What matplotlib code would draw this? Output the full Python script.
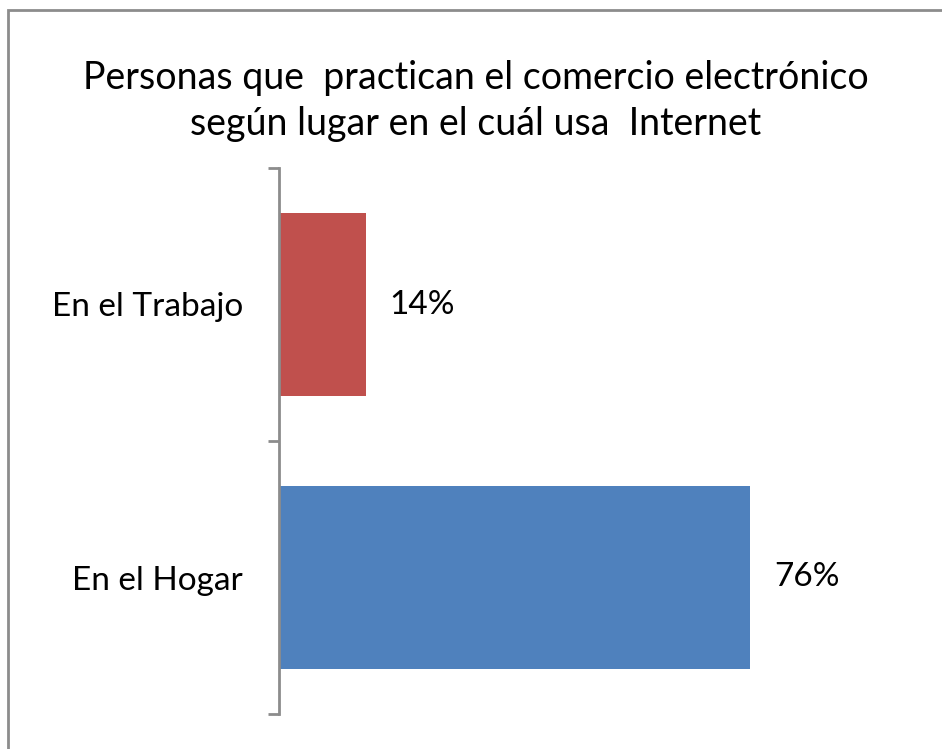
import matplotlib
matplotlib.use("Agg")
import matplotlib.pyplot as plt
from matplotlib.patches import Rectangle

plt.rcParams['font.family'] = ['Lato', 'DejaVu Sans']

# Data
categories = ["En el Hogar", "En el Trabajo"]
values = [76, 14]
colors = ["#4F81BD", "#C0504D"]
title = "Personas que  practican el comercio electrónico\nsegún lugar en el cuál usa  Internet"

fig = plt.figure(figsize=(9.42, 7.49), dpi=100)

# chart border (cropped at right and bottom)
fig.patches.append(Rectangle((8 / 942, -0.05), 1.0, 1 - 10 / 749 + 0.05,
                             transform=fig.transFigure, fill=False,
                             edgecolor="#8c8c8c", linewidth=2))

ax = fig.add_axes([279 / 942, 1 - 714 / 749, 620 / 942, (714 - 168) / 749])
ypos = range(len(categories))
ax.barh(ypos, values, height=0.67, color=colors)
ax.set_xlim(0, 100)
ax.set_ylim(-0.5, 1.5)

for y, v in zip(ypos, values):
    ax.annotate(f"{v}%", (v, y), xytext=(17, 0), textcoords="offset points",
                va="center", ha="left", fontsize=24)

ax.set_yticks(ypos)
ax.set_yticklabels(categories, fontsize=24)
ax.set_yticks([-0.5, 0.5, 1.5], minor=True)
ax.tick_params(axis="y", which="major", length=0, pad=26)
ax.tick_params(axis="y", which="minor", length=8, width=2, color="#8c8c8c")
ax.set_xticks([])
for s in ["top", "right", "bottom"]:
    ax.spines[s].set_visible(False)
ax.spines["left"].set_color("#8c8c8c")
ax.spines["left"].set_linewidth(2)

fig.text(476 / 942, 1 - 101 / 749, title, ha="center", va="center",
         fontsize=27, linespacing=1.35)

fig.savefig("out.png", dpi=100)
